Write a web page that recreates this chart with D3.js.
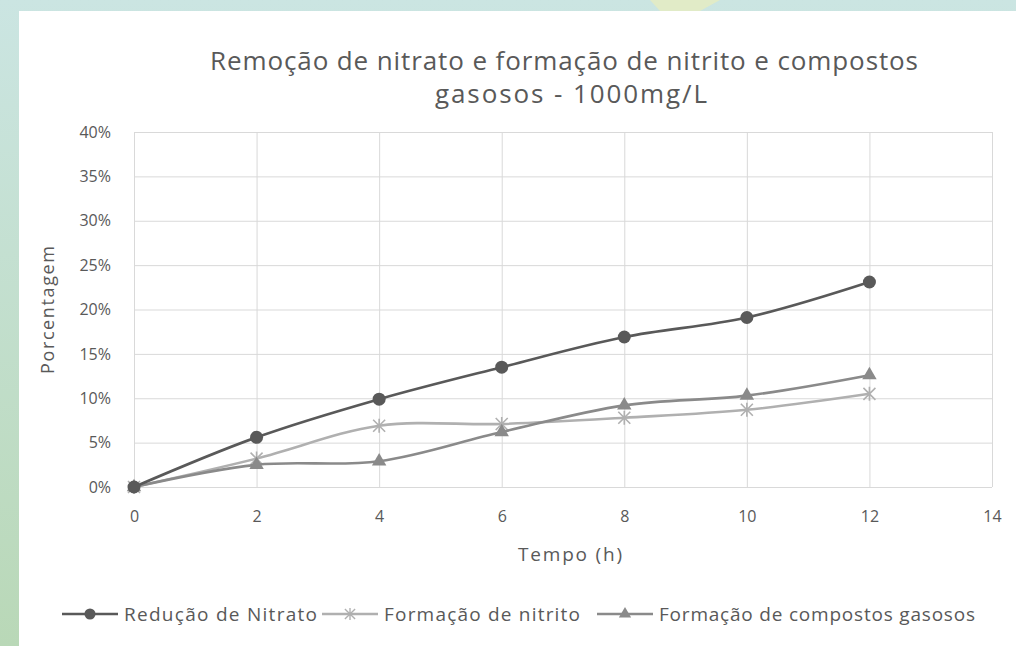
<!DOCTYPE html>
<html>
<head>
<meta charset="utf-8">
<script src="https://cdn.jsdelivr.net/npm/d3@7"></script>
<style>
  body { margin: 0; }
  svg text { font-family: "Open Sans", "DejaVu Sans", sans-serif; fill: #595959; }
</style>
</head>
<body>
<svg id="chart" width="1016" height="646"></svg>
<script>
let hours = [0, 2, 4, 6, 8, 10, 12];
let nitrato = [0, 5.6, 9.9, 13.5, 16.9, 19.1, 23.1];
let nitrito = [0, 3.2, 6.9, 7.1, 7.8, 8.7, 10.5];
let gasosos = [0, 2.5, 2.9, 6.2, 9.2, 10.3, 12.6];
let xTicks = [0, 2, 4, 6, 8, 10, 12, 14];
let yTicks = [0, 5, 10, 15, 20, 25, 30, 35, 40];
let seriesNames = ['Redução de Nitrato', 'Formação de nitrito', 'Formação de compostos gasosos'];

let series = [
  {name: seriesNames[0], values: nitrato, color: '#595959', marker: 'circle'},
  {name: seriesNames[1], values: nitrito, color: '#b0b0b0', marker: 'star'},
  {name: seriesNames[2], values: gasosos, color: '#8a8a8a', marker: 'triangle'}
];

let svg = d3.select('#chart');

// slide background
let defs = svg.append('defs');
let grad = defs.append('linearGradient').attr('id', 'bg').attr('x1', 0).attr('y1', 0).attr('x2', 0).attr('y2', 1);
grad.append('stop').attr('offset', '0%').attr('stop-color', '#cbe5e2');
grad.append('stop').attr('offset', '100%').attr('stop-color', '#b9d8b7');
svg.append('rect').attr('width', 1016).attr('height', 646).attr('fill', 'url(#bg)');
svg.append('path').attr('d', 'M650,0 L720,0 L700,11 L660,11 Z').attr('fill', '#e6ecc0').attr('opacity', 0.8);
svg.append('rect').attr('x', 19).attr('y', 11).attr('width', 997).attr('height', 635).attr('fill', '#fff');

let xScale = d3.scaleLinear().domain([0, 14]).range([134, 992]);
let yScale = d3.scaleLinear().domain([0, 40]).range([487, 132]);

// gridlines
let yGrid = d3.axisLeft(yScale).tickValues(yTicks).tickSize(-(992 - 134)).tickFormat('');
svg.append('g').attr('transform', 'translate(134,0)').call(yGrid)
  .call(g => g.select('.domain').remove())
  .call(g => g.selectAll('line').attr('stroke', '#d9d9d9'));
let xGrid = d3.axisBottom(xScale).tickValues(xTicks).tickSize(-(487 - 132)).tickFormat('');
svg.append('g').attr('transform', 'translate(0,487)').call(xGrid)
  .call(g => g.select('.domain').remove())
  .call(g => g.selectAll('line').attr('stroke', '#d9d9d9'));

// tick labels
let yAxis = d3.axisLeft(yScale).tickValues(yTicks).tickSize(0).tickPadding(23).tickFormat(d => d + '%');
svg.append('g').attr('transform', 'translate(134,0)').call(yAxis)
  .call(g => g.select('.domain').remove())
  .call(g => g.selectAll('text').attr('font-size', 16).attr('fill', '#595959'));
let xAxis = d3.axisBottom(xScale).tickValues(xTicks).tickSize(0).tickPadding(24);
svg.append('g').attr('transform', 'translate(0,487)').call(xAxis)
  .call(g => g.select('.domain').remove())
  .call(g => g.selectAll('text').attr('font-size', 16).attr('fill', '#595959'));

// titles
let title = svg.append('text').attr('text-anchor', 'middle').attr('font-size', 26);
title.append('tspan').attr('x', 564).attr('y', 70).attr('textLength', 708).attr('lengthAdjust', 'spacing')
  .text('Remoção de nitrato e formação de nitrito e compostos');
title.append('tspan').attr('x', 571).attr('y', 103).attr('textLength', 272).attr('lengthAdjust', 'spacing')
  .text('gasosos - 1000mg/L');
svg.append('text').attr('x', 570).attr('y', 561).attr('text-anchor', 'middle').attr('font-size', 19)
  .attr('textLength', 104).attr('lengthAdjust', 'spacing').text('Tempo  (h)');
svg.append('text').attr('transform', 'translate(54,310) rotate(-90)').attr('text-anchor', 'middle')
  .attr('font-size', 18).attr('textLength', 128).attr('lengthAdjust', 'spacing').text('Porcentagem');

let line = d3.line().x((d, i) => xScale(hours[i])).y(d => yScale(d)).curve(d3.curveCatmullRom.alpha(0.5));

function drawMarker(g, type, color) {
  if (type === 'circle') {
    g.append('circle').attr('r', 6.5).attr('fill', color);
  } else if (type === 'triangle') {
    g.append('path').attr('d', d3.symbol(d3.symbolTriangle, 90)()).attr('fill', color);
  } else {
    g.append('path').attr('d', 'M-6,-6L6,6M-6,6L6,-6M0,-7L0,7').attr('stroke', color).attr('stroke-width', 1.6).attr('fill', 'none');
  }
}

// draw back-to-front: nitrito, gasosos, nitrato
[series[1], series[2], series[0]].forEach(s => {
  svg.append('path').datum(s.values).attr('d', line).attr('fill', 'none')
    .attr('stroke', s.color).attr('stroke-width', 2.6).attr('stroke-linejoin', 'round');
  svg.append('g').selectAll('g').data(s.values).enter().append('g')
    .attr('transform', (d, i) => `translate(${xScale(hours[i])},${yScale(d)})`)
    .each(function() { drawMarker(d3.select(this), s.marker, s.color); });
});

// legend
let legendX = [62, 322, 597];
let legendW = [193, 196, 316];
series.forEach((s, i) => {
  let g = svg.append('g').attr('transform', `translate(${legendX[i]},614)`);
  g.append('line').attr('x1', 0).attr('x2', 56).attr('stroke', s.color).attr('stroke-width', 2.6);
  let m = g.append('g').attr('transform', 'translate(28,0) scale(0.85)');
  drawMarker(m, s.marker, s.color);
  g.append('text').attr('x', 62).attr('y', 7).attr('font-size', 19)
    .attr('textLength', legendW[i]).attr('lengthAdjust', 'spacing').text(s.name);
});
</script>
</body>
</html>
